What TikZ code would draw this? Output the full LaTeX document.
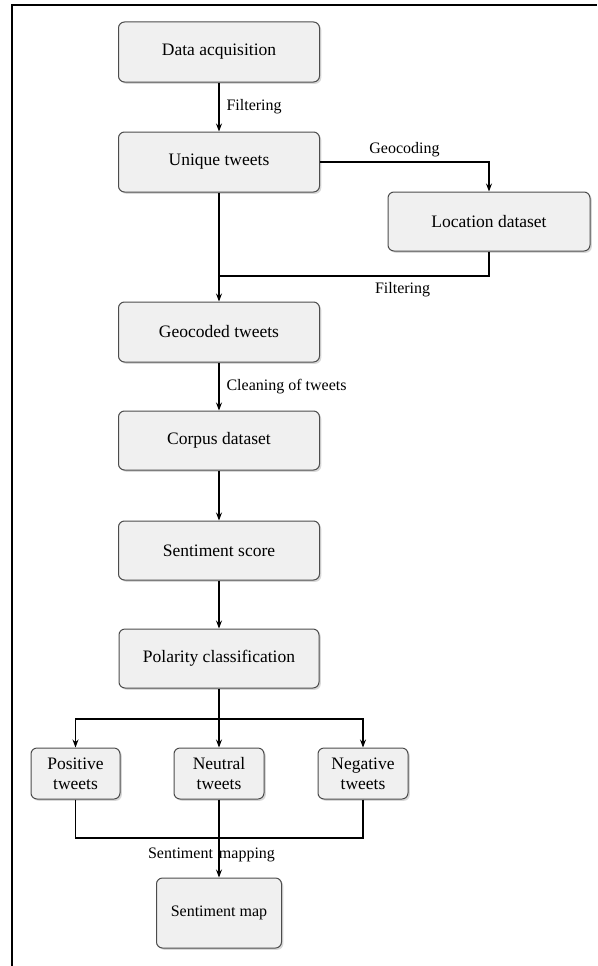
\documentclass[tikz,border=0pt]{standalone}
\usepackage{fontspec}
\setmainfont{Liberation Serif}
\usetikzlibrary{arrows.meta, shadows}

\begin{document}
\begin{tikzpicture}[x=1pt, y=-1pt, >={Stealth[length=8pt, width=6pt]},
    stage/.style={draw=black!70, line width=1pt, fill=black!6, rounded corners=6pt,
        drop shadow={shadow xshift=1.8pt, shadow yshift=-1.8pt, fill=black!30},
        font=\fontsize{17.5}{20}\selectfont, align=center, inner sep=0pt},
    flow/.style={line width=1.1pt},
    tag/.style={font=\fontsize{16}{18}\selectfont, inner sep=2pt}]
    \useasboundingbox (0,0) rectangle (597,966);

    % Frame
    \draw[line width=2pt] (12,966) -- (12,5) -- (597,5);

    % Main column
    \node[stage, minimum width=201pt, minimum height=60pt] (acq) at (219,52) {Data acquisition};
    \node[stage, minimum width=201pt, minimum height=60pt] (uniq) at (219,162) {Unique tweets};
    \node[stage, minimum width=202pt, minimum height=59pt] (loc) at (489,221.5) {Location dataset};
    \node[stage, minimum width=201pt, minimum height=60pt] (geo) at (219,332) {Geocoded tweets};
    \node[stage, minimum width=201pt, minimum height=59pt] (corpus) at (219,440.5) {Corpus dataset};
    \node[stage, minimum width=201pt, minimum height=59pt] (score) at (219,550.5) {Sentiment score};
    \node[stage, minimum width=200pt, minimum height=59pt] (polar) at (219,658.5) {Polarity classification};

    % Polarity classes
    \node[stage, minimum width=89pt, minimum height=51pt] (pos) at (75.5,773.5) {Positive\\tweets};
    \node[stage, minimum width=90pt, minimum height=51pt] (neu) at (219,773.5) {Neutral\\tweets};
    \node[stage, minimum width=90pt, minimum height=51pt] (neg) at (363,773.5) {Negative\\tweets};
    \node[stage, minimum width=125pt, minimum height=70pt, font=\fontsize{16}{18}\selectfont] (map) at (219,913) {Sentiment map};

    % Junctions
    \coordinate (join) at (219,276);
    \coordinate (split) at (219,719);
    \coordinate (merge) at (219,838);

    % Arrows
    \draw[flow, ->] (acq) -- (uniq) node[tag, midway, right, xshift=5pt] {Filtering};
    \draw[flow, ->] (uniq.east) -| (loc.north) node[tag, pos=0.25, above, yshift=2pt] {Geocoding};
    \draw[flow, ->] (uniq) -- (geo);
    \draw[flow] (loc.south) |- (join) node[tag, pos=0.66, below, yshift=-4pt] {Filtering};
    \draw[flow, ->] (geo) -- (corpus) node[tag, midway, right, xshift=5pt] {Cleaning of tweets};
    \draw[flow, ->] (corpus) -- (score);
    \draw[flow, ->] (score) -- (polar);

    \draw[flow, ->] (polar) -- (neu);
    \draw[flow, ->] (split) -| (pos.north);
    \draw[flow, ->] (split) -| (neg.north);

    \draw[flow] (pos.south) |- (merge);
    \draw[flow] (neg.south) |- (merge);
    \draw[flow, ->] (neu) -- (map) node[tag, pos=0.71, xshift=-7.5pt] {Sentiment\hspace{6pt}mapping};
\end{tikzpicture}
\end{document}
